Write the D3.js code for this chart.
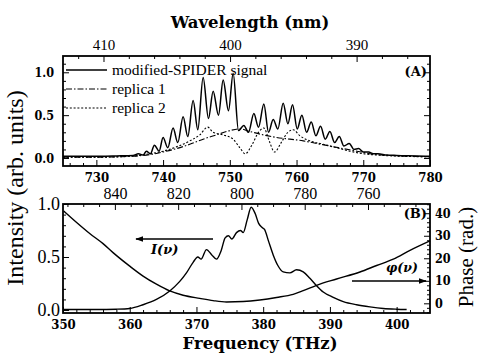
<!DOCTYPE html>
<html>
<head>
<meta charset="utf-8">
<script src="https://cdn.jsdelivr.net/npm/d3@7"></script>
<style>
  body { margin: 0; background: #fff; }
  svg { display: block; }
  text { fill: #000; }
  .tick line { stroke: #000; stroke-width: 1; }
</style>
</head>
<body>
<svg id="chart" width="478" height="356"></svg>
<script>
// ---- data: panel (A), modified-SPIDER signal and replicas, x in THz ----
const sigFreq = [725, 729, 733, 735.5, 736.3, 737.0, 737.5, 738.1, 738.7, 739.4, 740.0, 740.7, 741.5, 742.2,
  743.0, 743.7, 744.5, 745.2, 746.0, 746.8, 747.5, 748.3, 749.0, 749.8, 750.5, 751.3, 752.1, 752.8,
  753.6, 754.3, 755.1, 755.8, 756.5, 757.2, 758.0, 758.7, 759.4, 760.1, 760.8, 761.5, 762.2, 762.9,
  763.6, 764.3, 765.0, 765.7, 766.4, 767.1, 767.9, 768.6, 769.3, 770.0, 770.8, 771.5, 772.2, 773.5,
  775, 778, 780];
const sigValue = [0.02, 0.02, 0.025, 0.03, 0.05, 0.035, 0.08, 0.05, 0.15, 0.08, 0.24, 0.12, 0.35, 0.18,
  0.48, 0.25, 0.67, 0.33, 0.94, 0.46, 0.78, 0.5, 0.91, 0.55, 0.99, 0.32, 0.38, 0.3,
  0.52, 0.36, 0.63, 0.3, 0.45, 0.34, 0.64, 0.4, 0.62, 0.34, 0.5, 0.3, 0.42, 0.26,
  0.37, 0.22, 0.31, 0.18, 0.25, 0.14, 0.17, 0.1, 0.11, 0.07, 0.07, 0.05, 0.05, 0.035,
  0.03, 0.025, 0.02];
const rep1Freq = [725, 730, 735, 738, 740, 742, 744, 746, 748, 750, 751.5, 753, 755, 757, 759, 761, 763,
  765, 767, 769, 771, 774, 777, 780];
const rep1Value = [0.01, 0.01, 0.02, 0.04, 0.07, 0.11, 0.16, 0.22, 0.27, 0.32, 0.34, 0.31, 0.27, 0.24, 0.22,
  0.2, 0.17, 0.14, 0.11, 0.08, 0.05, 0.03, 0.02, 0.015];
const rep2Freq = [725, 730, 735, 738, 740, 742, 744, 745.5, 746.7, 747.5, 749, 750.5, 751.5, 752.3, 753.3,
  754.3, 755.1, 755.9, 756.7, 757.7, 758.7, 759.5, 760.5, 762, 764, 766, 768, 770, 773, 776, 780];
const rep2Value = [0.01, 0.01, 0.02, 0.05, 0.08, 0.13, 0.2, 0.27, 0.36, 0.3, 0.27, 0.22, 0.12, 0.05, 0.15,
  0.3, 0.35, 0.2, 0.07, 0.18, 0.3, 0.33, 0.26, 0.2, 0.16, 0.12, 0.08, 0.05, 0.03, 0.02, 0.015];
const legendNames = ["modified-SPIDER signal", "replica 1", "replica 2"];

// ---- data: panel (B), retrieved intensity and phase ----
const intFreq = [350, 355, 358, 360, 362, 364, 366, 367.5, 368.5, 369.5, 370.2, 370.7, 371.5, 372.3, 373,
  373.7, 374.3, 374.8, 375.3, 376, 376.6, 377, 377.6, 378.2, 378.8, 379.3, 379.8, 380.2, 380.8,
  381.5, 382.2, 383, 384, 385, 386, 387, 388, 389, 390.5, 392, 394, 396, 398, 400, 401.5];
const intValue = [0.005, 0.005, 0.008, 0.015, 0.05, 0.1, 0.18, 0.27, 0.35, 0.45, 0.5, 0.48, 0.57, 0.52, 0.48,
  0.56, 0.68, 0.7, 0.67, 0.73, 0.75, 0.73, 0.85, 0.97, 0.91, 0.82, 0.78, 0.76, 0.65,
  0.52, 0.42, 0.36, 0.35, 0.38, 0.36, 0.3, 0.23, 0.17, 0.12, 0.08, 0.05, 0.03, 0.015, 0.008, 0.005];
const phaseFreq = [350.1, 352, 354, 356, 357.5, 360, 362, 364, 366, 368, 370.5, 372.5, 374.5, 377, 379.5,
  382, 384.5, 386, 388, 391, 394.5, 397, 399.5, 402, 405];
const phaseValue = [41, 36, 31, 26.5, 22.5, 16.5, 12.1, 8.5, 5.5, 3.6, 2.2, 1.2, 0.6, 0.8, 1.5,
  2.6, 4.0, 5.6, 8.0, 10.8, 13.9, 16.8, 19.6, 23.5, 27.7];

// ---- tick values ----
const ticksA = [730, 740, 750, 760, 770, 780];
const ticksAnm = [410, 400, 390];
const ticksB = [350, 360, 370, 380, 390, 400];
const ticksBnm = [840, 820, 800, 780, 760];
const ticksInt = [0, 0.5, 1.0];
const ticksPhase = [0, 10, 20, 30, 40];

const FONT = "'Liberation Serif', 'DejaVu Serif', serif";
const BOLDSERIF = "'DejaVu Serif', serif";
const CONDENSED = "'DejaVu Serif Condensed', 'DejaVu Serif', serif";
const svg = d3.select("#chart");
const left = 63, right = 430;
const aTop = 56, aBot = 166, bTop = 204, bBot = 313;

const xA = d3.scaleLinear().domain([725, 780]).range([left, right]);
const wA = d3.scaleLinear().domain([413.2, 384.2]).range([left, right]);
const yA = d3.scaleLinear().domain([-0.093, 1.19]).range([aBot, aTop]);
const xB = d3.scaleLinear().domain([350, 405]).range([left, right]);
const wB = d3.scaleLinear().domain([856.4, 740.4]).range([left, right]);
const yB = d3.scaleLinear().domain([-0.028, 1.0]).range([bBot, bTop]);
const pB = d3.scaleLinear().domain([-4.3, 44.1]).range([bBot, bTop]);

const range = (a, b, s) => d3.range(a, b + s / 2, s);

// one axis: major ticks with labels, minor ticks without, all pointing inward
function drawAxis(maker, scale, y0, x0, major, minor, fmt, font) {
  const g = svg.append("g").attr("transform", `translate(${x0},${y0})`);
  g.call(maker(scale).tickValues(major).tickSizeInner(-6).tickSizeOuter(0)
    .tickPadding(font.pad).tickFormat(fmt));
  const fam = font.weight === "bold" ? CONDENSED : FONT;
  g.attr("font-family", fam);
  g.selectAll("text").style("font-family", fam).style("font-size", font.size + "px")
    .style("font-weight", font.weight || "normal");
  g.select(".domain").remove();
  const gm = svg.append("g").attr("transform", `translate(${x0},${y0})`);
  gm.call(maker(scale).tickValues(minor.filter(v => !major.includes(+v.toFixed(3))))
    .tickSizeInner(-3).tickSizeOuter(0).tickFormat(""));
  gm.select(".domain").remove();
}

function label(x, y, str, size, opts = {}) {
  const t = svg.append("text").attr("x", x).attr("y", y).text(str)
    .style("font-family", opts.family || FONT).style("font-size", size + "px")
    .style("font-weight", opts.weight || "normal").style("font-style", opts.style || "normal")
    .attr("text-anchor", opts.anchor || "start");
  if (opts.rotate) t.attr("x", null).attr("y", null).attr("transform", `translate(${x},${y}) rotate(-90)`);
  return t;
}

const f1 = d3.format(".1f"), f0 = d3.format("d");

// panel A axes
drawAxis(d3.axisBottom, xA, aBot, 0, ticksA, range(726, 778, 2), f0, {size: 13, weight: "bold", pad: 7});
drawAxis(d3.axisTop, wA, aTop, 0, ticksAnm, range(386, 412, 2), f0, {size: 15, pad: 6});
drawAxis(d3.axisLeft, yA, 0, left, ticksInt, range(0, 1.1, 0.1), f1, {size: 12.5, weight: "bold", pad: 9});
drawAxis(d3.axisRight, yA, 0, right, ticksInt, range(0, 1.1, 0.1), () => "", {size: 13, pad: 4});

// panel B axes
drawAxis(d3.axisBottom, xB, bBot, 0, ticksB, range(352, 404, 2), f0, {size: 13, weight: "bold", pad: 7});
drawAxis(d3.axisTop, wB, bTop, 0, ticksBnm, range(745, 855, 5), f0, {size: 16, pad: 5});
drawAxis(d3.axisLeft, yB, 0, left, ticksInt, range(0, 1.0, 0.1), f1, {size: 18, pad: 3});
drawAxis(d3.axisRight, pB, 0, right, ticksPhase, range(-4, 44, 2), f0, {size: 12.5, weight: "bold", pad: 5});

// frames
[[aTop, aBot], [bTop, bBot]].forEach(([t, b]) => {
  svg.append("rect").attr("x", left).attr("y", t).attr("width", right - left).attr("height", b - t)
    .attr("fill", "none").attr("stroke", "#000").attr("stroke-width", 1.8);
});

// curves
const lineA = d3.line().x(d => xA(d[0])).y(d => yA(d[1])).curve(d3.curveMonotoneX);
const lineB = d3.line().x(d => xB(d[0])).y(d => yB(d[1])).curve(d3.curveMonotoneX);
const lineP = d3.line().x(d => xB(d[0])).y(d => pB(d[1])).curve(d3.curveMonotoneX);
const zip = (a, b) => a.map((v, i) => [v, b[i]]);

const styles = [
  {dash: null, width: 1.5},
  {dash: "6,2,1.5,2", width: 1.1},
  {dash: "2,1.8", width: 1.1}
];
const seriesA = [zip(sigFreq, sigValue), zip(rep1Freq, rep1Value), zip(rep2Freq, rep2Value)];
seriesA.forEach((s, i) => {
  svg.append("path").attr("d", lineA(s)).attr("fill", "none").attr("stroke", "#000")
    .attr("stroke-width", styles[i].width).attr("stroke-dasharray", styles[i].dash);
});

svg.append("path").attr("d", lineB(zip(intFreq, intValue))).attr("fill", "none")
  .attr("stroke", "#000").attr("stroke-width", 1.4);
svg.append("path").attr("d", lineP(zip(phaseFreq, phaseValue))).attr("fill", "none")
  .attr("stroke", "#000").attr("stroke-width", 1.4);

// legend
legendNames.forEach((n, i) => {
  const y = 70 + i * 19;
  svg.append("line").attr("x1", 66).attr("x2", 107).attr("y1", y).attr("y2", y)
    .attr("stroke", "#000").attr("stroke-width", styles[i].width).attr("stroke-dasharray", styles[i].dash);
  label(112, y + 5, n, 15.5);
});

// panel tags
label(427, 76, "(A)", 13, {weight: "bold", anchor: "end", family: BOLDSERIF});
label(427, 218, "(B)", 13, {weight: "bold", anchor: "end", family: BOLDSERIF});

// arrows with curve names
svg.append("defs").append("marker").attr("id", "head").attr("viewBox", "0 0 10 10")
  .attr("refX", 9).attr("refY", 5).attr("markerWidth", 8).attr("markerHeight", 6).attr("orient", "auto")
  .append("path").attr("d", "M0,1.5L10,5L0,8.5z").attr("fill", "#000");
svg.append("line").attr("x1", 213).attr("x2", 136).attr("y1", 239).attr("y2", 239)
  .attr("stroke", "#000").attr("stroke-width", 1.3).attr("marker-end", "url(#head)");
label(151, 254, "I(ν)", 13, {weight: "bold", style: "italic", family: BOLDSERIF});
svg.append("line").attr("x1", 352).attr("x2", 426).attr("y1", 281).attr("y2", 281)
  .attr("stroke", "#000").attr("stroke-width", 1.3).attr("marker-end", "url(#head)");
label(386, 272, "φ(ν)", 12.5, {weight: "bold", style: "italic", family: BOLDSERIF});

// axis titles
label(250, 28, "Wavelength (nm)", 16.5, {weight: "bold", anchor: "middle", family: BOLDSERIF});
label(260, 349, "Frequency (THz)", 16.5, {weight: "bold", anchor: "middle", family: BOLDSERIF});
label(23, 188, "Intensity (arb. units)", 24, {anchor: "middle", rotate: true});
label(473, 257, "Phase (rad.)", 21, {anchor: "middle", rotate: true});
</script>
</body>
</html>
